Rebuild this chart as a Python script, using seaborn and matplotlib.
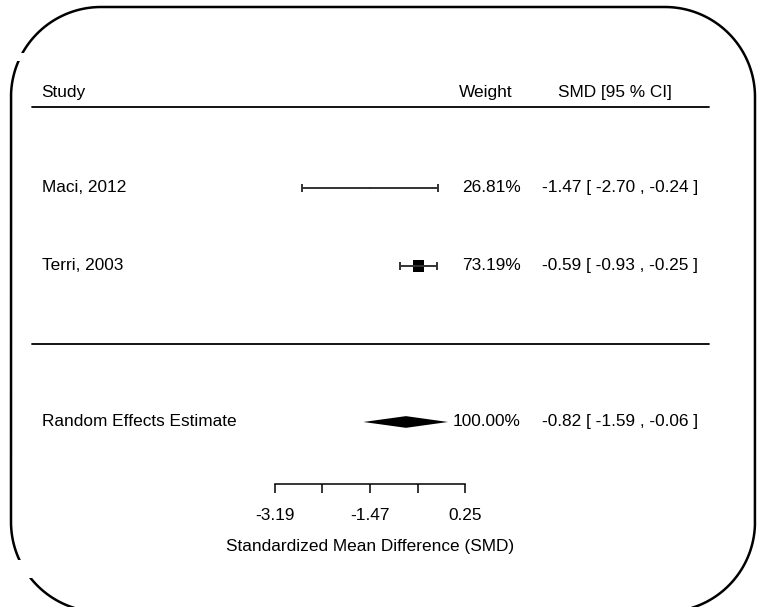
import matplotlib
matplotlib.use("Agg")
import matplotlib.pyplot as plt
from matplotlib.patches import PathPatch, Rectangle
from matplotlib.path import Path
import matplotlib.transforms as mtransforms
import numpy as np
import pandas as pd
import seaborn as sns

# ---- data -------------------------------------------------------------
studies = ["Maci, 2012", "Terri, 2003"]
smd = [-1.47, -0.59]
ci_low = [-2.70, -0.93]
ci_high = [-0.24, -0.25]
weights = [26.81, 73.19]

pooled_label = "Random Effects Estimate"
pooled_smd = -0.82
pooled_low = -1.59
pooled_high = -0.06
pooled_weight = 100.00

tick_values = [-3.19, -2.33, -1.47, -0.61, 0.25]
tick_labels = ["-3.19", "", "-1.47", "", "0.25"]

# ---- figure -----------------------------------------------------------
sns.set_theme(style="white")
plt.rcParams["font.family"] = ["Liberation Sans", "DejaVu Sans"]
plt.rcParams["axes.unicode_minus"] = False
plt.rcParams["text.color"] = "black"
plt.rcParams["axes.labelcolor"] = "black"
plt.rcParams["xtick.color"] = "black"
plt.rcParams["xtick.labelcolor"] = "black"

W, H = 757, 607
fig = plt.figure(figsize=(W / 100, H / 100), dpi=100)
fig.patch.set_facecolor("white")

# rounded outer frame (pixel coordinates, y downwards)
frame_ax = fig.add_axes([0, 0, 1, 1])
frame_ax.set_xlim(0, W)
frame_ax.set_ylim(H, 0)
frame_ax.axis("off")


def rounded_rect(x0, y0, x1, y1, r, n=40):
    pts = []
    corners = [((x1 - r, y0 + r), -90, 0), ((x1 - r, y1 - r), 0, 90),
               ((x0 + r, y1 - r), 90, 180), ((x0 + r, y0 + r), 180, 270)]
    for (cx, cy), a0, a1 in corners:
        t = np.radians(np.linspace(a0, a1, n))
        pts.extend(zip(cx + r * np.cos(t), cy + r * np.sin(t)))
    pts.append(pts[0])
    return Path(pts)


frame_ax.add_patch(PathPatch(rounded_rect(11, 7, 755, 612, 90),
                             fill=False, ec="black", lw=1.8))
for y0, h in [(53, 8), (560, 18)]:
    frame_ax.add_patch(Rectangle((0, y0), 40, h, fc="white", ec="none"))

# forest plot
ax = fig.add_axes([0, 0, 1, 1])
ax.patch.set_alpha(0)
ax.set_xlim(-8.161, 5.528)
ax.set_ylim(-3.372, 4.41)

rows = [2, 1]
df = pd.DataFrame({"study": studies, "smd": smd, "lo": ci_low,
                   "hi": ci_high, "weight": weights, "row": rows})

line_col = "#333333"
fs = 12.4

# confidence intervals with end caps
ax.hlines(df["row"], df["lo"], df["hi"], color=line_col, lw=1.4)
cap = 0.05
ax.vlines(df["lo"], df["row"] - cap, df["row"] + cap, color=line_col, lw=1.4)
ax.vlines(df["hi"], df["row"] - cap, df["row"] + cap, color=line_col, lw=1.4)

# study point estimates, square size by weight
sns.scatterplot(data=df, x="smd", y="row", size="weight", sizes=(1, 70),
                marker="s", color="black", edgecolor="black", linewidth=0,
                legend=False, ax=ax)

# pooled diamond
prow = -1
dh = 0.075
ax.fill([pooled_low, pooled_smd, pooled_high, pooled_smd],
        [prow, prow + dh, prow, prow - dh], color="black", lw=0)

# table text
trans = mtransforms.blended_transform_factory(ax.transAxes, ax.transData)
x_name, x_w, x_ci = 0.055, 0.688, 0.922
header_row = 3.23
ax.text(x_name, header_row, "Study", transform=trans, ha="left", va="center", fontsize=fs)
ax.text(0.677, header_row, "Weight", transform=trans, ha="right", va="center", fontsize=fs)
ax.text(0.888, header_row, "SMD [95 % CI]", transform=trans, ha="right", va="center", fontsize=fs)


def ci_text(m, lo, hi):
    return f"{m:.2f} [ {lo:.2f} , {hi:.2f} ]"


for s, m, lo, hi, w, r in zip(studies, smd, ci_low, ci_high, weights, rows):
    ax.text(x_name, r, s, transform=trans, ha="left", va="center", fontsize=fs)
    ax.text(x_w, r, f"{w:.2f}%", transform=trans, ha="right", va="center", fontsize=fs)
    ax.text(x_ci, r, ci_text(m, lo, hi), transform=trans, ha="right", va="center", fontsize=fs)

ax.text(x_name, prow, pooled_label, transform=trans, ha="left", va="center", fontsize=fs)
ax.text(x_w, prow, f"{pooled_weight:.2f}%", transform=trans, ha="right", va="center", fontsize=fs)
ax.text(x_ci, prow, ci_text(pooled_smd, pooled_low, pooled_high), transform=trans,
        ha="right", va="center", fontsize=fs)

# horizontal rules
ax.axhline(3.04, xmin=0.042, xmax=0.937, color="black", lw=1.3)
ax.axhline(0.0, xmin=0.042, xmax=0.937, color="black", lw=1.3)

# bottom axis
for side in ["top", "right", "left"]:
    ax.spines[side].set_visible(False)
ax.spines["bottom"].set_position(("data", -1.79))
ax.spines["bottom"].set_bounds(tick_values[0], tick_values[-1])
ax.spines["bottom"].set_color("black")
ax.spines["bottom"].set_linewidth(1.1)
ax.set_xticks(tick_values)
ax.set_xticklabels(tick_labels)
ax.tick_params(axis="x", direction="out", length=6.5, width=1.1, color="black",
               pad=11, labelsize=fs, bottom=True)
ax.set_yticks([])
ax.set_ylabel("")
ax.set_xlabel("Standardized Mean Difference (SMD)", fontsize=fs, va="center")
ax.xaxis.set_label_coords(-1.47, -2.60, transform=ax.transData)

fig.savefig("out.png", dpi=100)
